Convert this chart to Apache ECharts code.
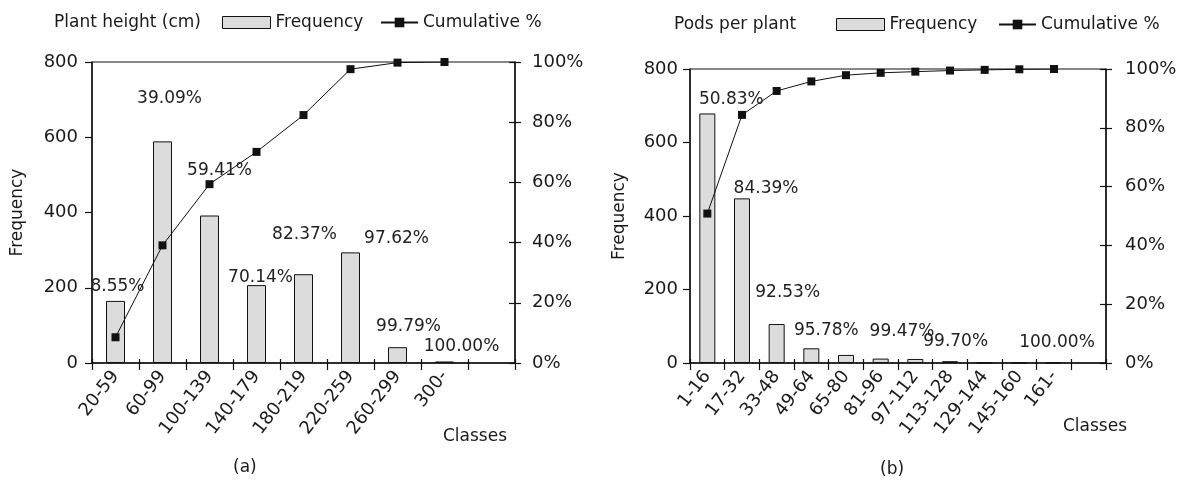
<!DOCTYPE html>
<html>
<head>
<meta charset="utf-8">
<script src="https://cdn.jsdelivr.net/npm/echarts@6/dist/echarts.min.js"></script>
<style>html,body{margin:0;padding:0;background:#fff}#c{width:1182px;height:482px}</style>
</head>
<body>
<div id="c"></div>
<script>
// ---- data ----
const catA = ['20-59','60-99','100-139','140-179','180-219','220-259','260-299','300-',''];
const freqA = [165, 589, 392, 207, 236, 294, 42, 4];
const cumA = [8.55, 39.09, 59.41, 70.14, 82.37, 97.62, 99.79, 100.00];

const catB = ['1-16','17-32','33-48','49-64','65-80','81-96','97-112','113-128','129-144','145-160','161-',''];
const freqB = [679, 448, 106, 40, 22, 12, 11, 5, 1, 1, 1];
const cumB = [50.83, 84.39, 92.53, 95.78, 97.9, 98.7, 99.1, 99.47, 99.70, 99.9, 100.00];

const freqTicks = {min: 0, max: 800, interval: 200};
const pctTicks = {min: 0, max: 100, interval: 20};

// ---- layout of the cumulative-% labels (pixel offsets from their points) ----
const labelShiftA = [[2,-51],[7,-147],[10,-14],[4,126],[1,120],[46,169],[11,264],[17,285]];
const labelShiftB = [[24,-114],[24,74],[11,202],[15,249],null,null,null,[-48,261],[-29,272],null,[3,274]];

const FONT = 'DejaVu Sans';
const TXT = '#1a1a1a';

function lineData(vals, shifts){
  return vals.map((v,i)=>({
    value: v,
    label: shifts[i] ? {show:true, offset: shifts[i]} : {show:false}
  }));
}

function xAxes(gi, cats){
  return [
    {type:'category', gridIndex:gi, data:cats, position:'bottom',
     axisLine:{show:true, lineStyle:{color:'#111', width:1.5}},
     axisTick:{show:true, inside:false, length:7, interval:0, lineStyle:{color:'#111', width:1.2}},
     axisLabel:{interval:0, rotate:52, margin:10, fontFamily:FONT, fontSize:18, color:TXT},
     splitLine:{show:false}},
    {type:'category', gridIndex:gi, data:cats, position:'bottom',
     axisLine:{show:false},
     axisTick:{show:true, inside:true, length:4, interval:0, lineStyle:{color:'#111', width:1.2}},
     axisLabel:{show:false}, splitLine:{show:false}}
  ];
}

function yAxes(gi, leftMargin, rightMargin, nameGap){
  return [
    {type:'value', gridIndex:gi, position:'left', min:freqTicks.min, max:freqTicks.max, interval:freqTicks.interval,
     name:'Frequency', nameLocation:'middle', nameGap:nameGap,
     nameTextStyle:{fontFamily:FONT, fontSize:17, color:TXT},
     axisLine:{show:true, lineStyle:{color:'#111', width:1.5}},
     axisTick:{show:true, length:7, lineStyle:{color:'#111', width:1.2}},
     axisLabel:{margin:leftMargin, fontFamily:FONT, fontSize:18, color:TXT},
     splitLine:{show:false}},
    {type:'value', gridIndex:gi, position:'right', min:pctTicks.min, max:pctTicks.max, interval:pctTicks.interval,
     axisLine:{show:true, lineStyle:{color:'#111', width:1.5}},
     axisTick:{show:true, length:6, lineStyle:{color:'#111', width:1.2}},
     axisLabel:{margin:rightMargin, formatter:'{value}%', fontFamily:FONT, fontSize:18, color:TXT},
     splitLine:{show:false}},
    {type:'value', gridIndex:gi, position:'right', min:pctTicks.min, max:pctTicks.max, interval:pctTicks.interval,
     axisLine:{show:false},
     axisTick:{show:true, inside:true, length:6, lineStyle:{color:'#111', width:1.2}},
     axisLabel:{show:false}, splitLine:{show:false}}
  ];
}

const barStyle = {color:'#dcdcdc', borderColor:'#111', borderWidth:1};
const lineStyle = {color:'#111', width:1};

function textTitle(text, left, top){
  return {text:text, left:left, top:top, padding:0,
    textStyle:{fontFamily:FONT, fontSize:17, fontWeight:'normal', color:TXT}};
}

const legendCommon = {padding:0, itemGap:0,
  textStyle:{fontFamily:FONT, fontSize:17, color:TXT}};

const option = {
  animation:false,
  backgroundColor:'#fff',
  title:[
    textTitle('Plant height (cm)', 54, 14),
    textTitle('Pods per plant', 674, 16),
    textTitle('Classes', 443, 428),
    textTitle('Classes', 1063, 418),
    textTitle('(a)', 233, 459),
    textTitle('(b)', 880, 461)
  ],
  legend:[
    Object.assign({}, legendCommon, {data:[{name:'Frequency', icon:'rect'}], left:222, top:14, itemWidth:48, itemHeight:12,
      itemStyle:barStyle}),
    Object.assign({}, legendCommon, {data:['Cumulative %'], left:380, top:14, itemWidth:37, itemHeight:12}),
    Object.assign({}, legendCommon, {data:[{name:'Frequency', icon:'rect'}], left:836, top:16, itemWidth:48, itemHeight:12,
      itemStyle:barStyle}),
    Object.assign({}, legendCommon, {data:['Cumulative %'], left:998, top:16, itemWidth:37, itemHeight:12})
  ],
  grid:[
    {left:92, right:1182-515, top:62, bottom:482-363, show:true, borderColor:'#111', borderWidth:1, backgroundColor:'transparent'},
    {left:690, right:1182-1106, top:69, bottom:482-363, show:true, borderColor:'#111', borderWidth:1, backgroundColor:'transparent'}
  ],
  xAxis: xAxes(0, catA).concat(xAxes(1, catB)),
  yAxis: yAxes(0, 14, 17, 66).concat(yAxes(1, 12, 19, 62)),
  series:[
    {name:'Frequency', type:'bar', xAxisIndex:0, yAxisIndex:0, data:freqA, barWidth:19, itemStyle:barStyle},
    {name:'Cumulative %', type:'line', xAxisIndex:0, yAxisIndex:1, data:lineData(cumA, labelShiftA),
     symbol:'rect', symbolSize:8, lineStyle:lineStyle, itemStyle:{color:'#111'},
     label:{position:'inside', formatter:p=>p.value.toFixed(2)+'%', fontFamily:FONT, fontSize:17, color:'#222'}},
    {name:'Frequency', type:'bar', xAxisIndex:2, yAxisIndex:3, data:freqB, barWidth:16, itemStyle:barStyle},
    {name:'Cumulative %', type:'line', xAxisIndex:2, yAxisIndex:4, data:lineData(cumB, labelShiftB),
     symbol:'rect', symbolSize:8, lineStyle:lineStyle, itemStyle:{color:'#111'},
     label:{position:'inside', formatter:p=>p.value.toFixed(2)+'%', fontFamily:FONT, fontSize:17, color:'#222'}}
  ]
};

const chart = echarts.init(document.getElementById('c'), null, {renderer:'canvas'});
chart.setOption(option);
</script>
</body>
</html>
